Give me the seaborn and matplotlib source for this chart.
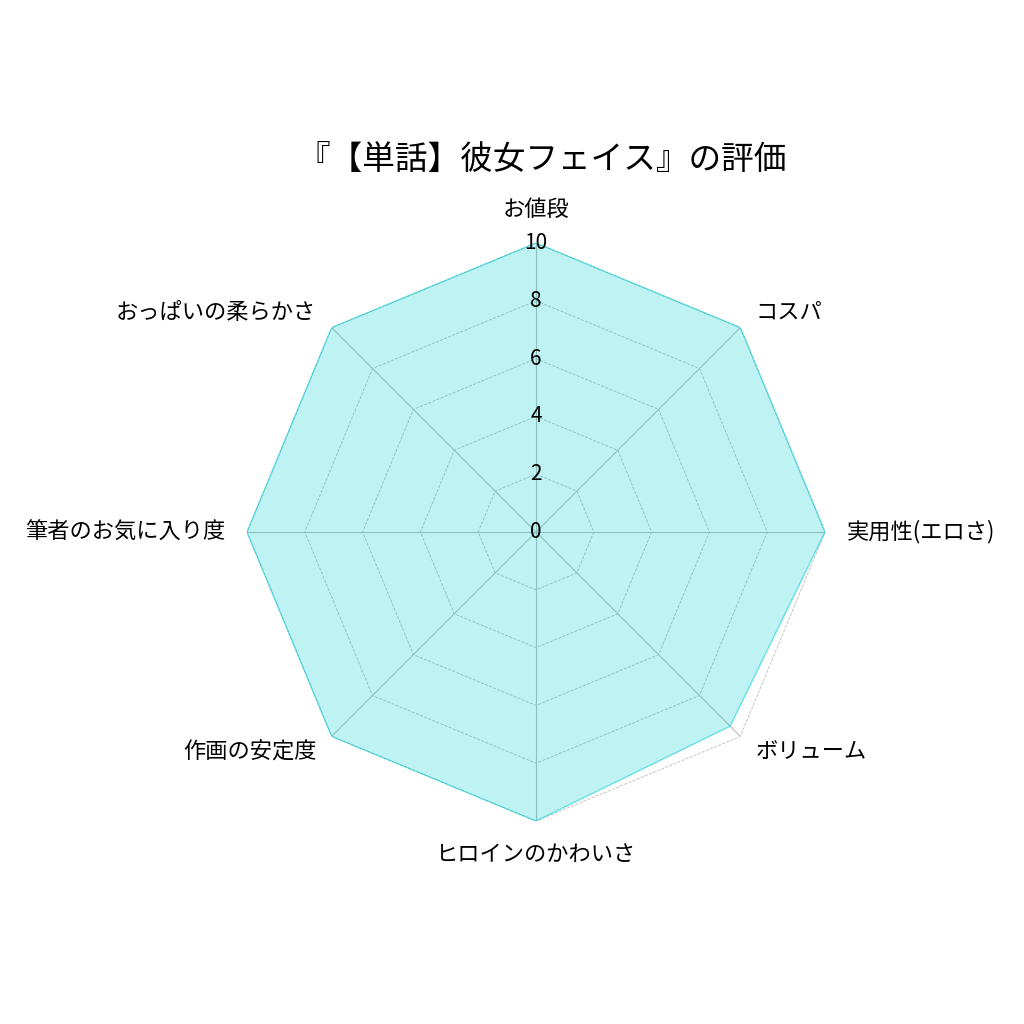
import matplotlib
matplotlib.use("Agg")
import matplotlib.pyplot as plt
import seaborn as sns
import numpy as np

sns.set_theme(style="white")
plt.rcParams['font.family'] = ['Noto Sans CJK JP', 'DejaVu Sans']

# データ
categories = ['お値段', 'コスパ', '実用性(エロさ)', 'ボリューム',
              'ヒロインのかわいさ', '作画の安定度', '筆者のお気に入り度', 'おっぱいの柔らかさ']
scores = [10, 10, 10, 9.5, 10, 10, 10, 10]
r_ticks = [0, 2, 4, 6, 8, 10]
title = '『【単話】彼女フェイス』の評価'

n = len(categories)
angles = np.linspace(0, 2 * np.pi, n, endpoint=False)
ang_closed = np.append(angles, angles[0])
val_closed = np.append(scores, scores[0])

fig = plt.figure(figsize=(10.24, 10.24), dpi=100)
ax = fig.add_axes([0.2412, 0.1982, 0.5645, 0.5645], polar=True)
ax.set_theta_offset(np.pi / 2)
ax.set_theta_direction(-1)

# データの多角形
ax.fill(ang_closed, val_closed, color='darkturquoise', alpha=0.25, zorder=2)
ax.plot(ang_closed, val_closed, color='darkturquoise', alpha=0.38, linewidth=0.9, zorder=3)

# 多角形のグリッド
ax.grid(False)
for r in r_ticks[1:]:
    ax.plot(ang_closed, [r] * (n + 1), color='#bbbbbb', linestyle='--', linewidth=0.6, zorder=1)
for a in angles:
    ax.plot([a, a], [0, r_ticks[-1]], color='#bbbbbb', linewidth=0.8, zorder=1)

ax.set_ylim(0, 10)
ax.set_xticks(angles)
ax.set_xticklabels([])

# 軸ラベル (左右で揃え方を変える)
for a, lab in zip(angles, categories):
    s = np.sin(a)
    c = np.cos(a)
    if abs(s) < 1e-6:
        ha = 'center'
        va = 'bottom' if c > 0 else 'top'
    else:
        ha = 'left' if s > 0 else 'right'
        va = 'center'
    ax.text(a, 10.75, lab, fontsize=16, color='black', ha=ha, va=va)

ax.set_yticks(r_ticks)
ax.set_yticklabels([str(t) for t in r_ticks], fontsize=15, color='black')
ax.set_rlabel_position(0)
ax.yaxis.set_zorder(5)
for lab in ax.get_yticklabels():
    lab.set_horizontalalignment('center')
    lab.set_verticalalignment('center')
ax.spines['polar'].set_visible(False)
ax.set_facecolor('none')

fig.text(0.529, 0.844, title, fontsize=23.5, color='black', ha='center', va='center')

fig.savefig('out.png', dpi=100)
